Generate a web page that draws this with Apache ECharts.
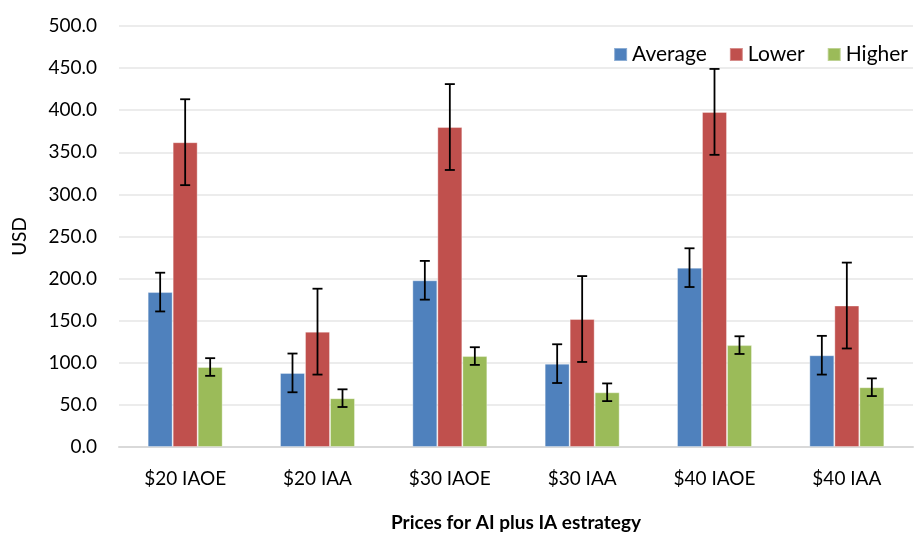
<!DOCTYPE html>
<html>
<head>
<meta charset="utf-8">
<script src="https://cdn.jsdelivr.net/npm/echarts@6/dist/echarts.min.js"></script>
<style>
html,body{margin:0;padding:0;background:#fff;}
#main{width:915px;height:536px;}
</style>
</head>
<body>
<div id="main"></div>
<script>
const categories = ['$20 IAOE', '$20 IAA', '$30 IAOE', '$30 IAA', '$40 IAOE', '$40 IAA'];
const seriesNames = ['Average', 'Lower', 'Higher'];
const averageValues = [184, 88, 198, 99, 213, 109];
const lowerValues = [362, 137, 380, 152, 398, 168];
const higherValues = [95, 58, 108, 65, 121, 71];
const averageErr = [23, 23, 23, 23, 23, 23];
const lowerErr = [51, 51, 51, 51, 51, 51];
const higherErr = [10.5, 10.5, 10.5, 10.5, 10.5, 10.5];
const yTicks = [0, 50, 100, 150, 200, 250, 300, 350, 400, 450, 500];

const colors = ['#4F81BD', '#C0504D', '#9BBB59'];
const FONT = 'Lato, "Open Sans", sans-serif';
const BAR_W = 25;

const values = [averageValues, lowerValues, higherValues];
const errs = [averageErr, lowerErr, higherErr];

const barSeries = values.map((v, i) => ({
  name: seriesNames[i],
  type: 'bar',
  data: v,
  barWidth: BAR_W,
  barGap: '0%',
  itemStyle: { color: colors[i], borderColor: 'rgba(255,255,255,0.35)', borderWidth: 1 },
  z: 2
}));

const errSeries = values.map((v, i) => ({
  name: seriesNames[i] + ' err',
  type: 'custom',
  z: 5,
  silent: true,
  encode: { x: 0, y: [1, 2] },
  data: v.map((val, k) => [k, val - errs[i][k], val + errs[i][k]]),
  renderItem: function (params, api) {
    const lo = api.coord([api.value(0), api.value(1)]);
    const hi = api.coord([api.value(0), api.value(2)]);
    const x = lo[0] + (i - 1) * BAR_W;
    const cap = 5;
    const style = { stroke: '#000', lineWidth: 1.8 };
    return {
      type: 'group',
      children: [
        { type: 'line', shape: { x1: x, y1: hi[1], x2: x, y2: lo[1] }, style: style },
        { type: 'line', shape: { x1: x - cap, y1: hi[1], x2: x + cap, y2: hi[1] }, style: style },
        { type: 'line', shape: { x1: x - cap, y1: lo[1], x2: x + cap, y2: lo[1] }, style: style }
      ]
    };
  }
}));

const chart = echarts.init(document.getElementById('main'));
chart.setOption({
  animation: false,
  backgroundColor: '#fff',
  textStyle: { fontFamily: FONT },
  legend: {
    data: seriesNames,
    right: 2,
    top: 39,
    itemWidth: 13,
    itemHeight: 13,
    itemGap: 22,
    icon: 'rect',
    textStyle: { fontFamily: FONT, fontSize: 21, color: '#000' }
  },
  grid: { left: 119, right: 2, top: 26, bottom: 89, outerBoundsMode: 'none', containLabel: false },
  xAxis: {
    type: 'category',
    data: categories,
    axisTick: { show: false },
    axisLine: { lineStyle: { color: '#d9d9d9', width: 2 } },
    axisLabel: { fontFamily: FONT, fontSize: 19, color: '#000', margin: 22 },
    name: 'Prices for AI plus IA estrategy',
    nameLocation: 'middle',
    nameGap: 66,
    nameTextStyle: { fontFamily: FONT, fontSize: 19, fontWeight: 'bold', color: '#000' }
  },
  yAxis: {
    type: 'value',
    min: yTicks[0],
    max: yTicks[yTicks.length - 1],
    interval: 50,
    axisLine: { show: false },
    axisTick: { show: false },
    splitLine: { lineStyle: { color: '#e6e6e6', width: 1.5 } },
    axisLabel: { fontFamily: FONT, fontSize: 19, color: '#000', margin: 22, formatter: v => v.toFixed(1) },
    name: 'USD',
    nameLocation: 'middle',
    nameGap: 90,
    nameRotate: 90,
    nameTextStyle: { fontFamily: FONT, fontSize: 19, color: '#000' }
  },
  series: barSeries.concat(errSeries)
});
</script>
</body>
</html>
